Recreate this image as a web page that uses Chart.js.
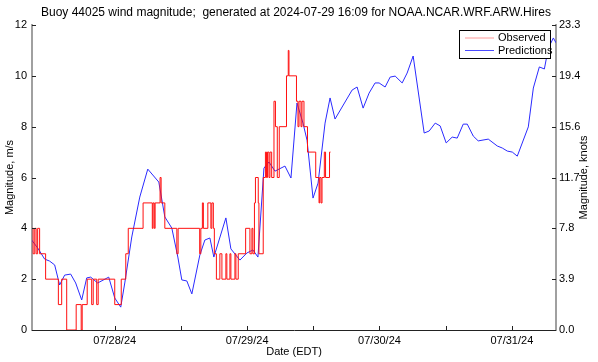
<!DOCTYPE html>
<html>
<head>
<meta charset="utf-8">
<style>
  html, body { margin: 0; padding: 0; background: #fff; }
  #wrap { width: 598px; height: 362px; }
</style>
<script src="https://cdn.jsdelivr.net/npm/chart.js@4"></script>
</head>
<body>
<div id="wrap"><canvas id="chart" width="598" height="362"></canvas></div>
<script>
// hours since 07/28/24 00:00 EDT
const obsHours = [-15.0, -14.8, -14.5, -14.25, -13.98, -13.62, -12.53, -10.22, -9.62, -8.71,
    -6.99, -6.08, -5.9, -4.99, -4.18, -3.9, -3.27, -3.0, 0, 1.18,
    2.0, 2.45, 5.14, 6.81, 6.95, 7.17, 7.32, 8.22, 8.41, 9.08,
    11.26, 11.49, 15.4, 15.61, 15.89, 16.07, 16.88, 17.43, 17.61, 17.88,
    18.06, 18.43, 19.06, 19.43, 20.15, 20.33, 20.88, 21.06, 21.79, 21.97,
    22.39, 23.73, 24.51, 24.87, 25.05, 25.33, 25.51, 26.02, 26.14, 26.92,
    27.32, 27.51, 27.69, 27.96, 28.14, 28.45, 28.87, 29.14, 29.47, 29.83,
    31.14, 31.46, 31.59, 32.95, 33.22, 33.41, 33.77, 33.95, 34.31, 34.95,
    36.44, 37.04, 37.16, 37.4, 37.58, 38.0, 38.22, 38.94, 39.12];
const obsValues = [4, 3, 4, 3, 4, 3, 2, 1, 2, 0,
    1, 0, 1, 2, 1, 2, 1, 2, 1, 2,
    3, 4, 5, 4, 5, 4, 5, 6, 5, 4,
    3, 4, 3, 4, 5, 4, 5, 4, 5, 4,
    3, 2, 3, 2, 3, 2, 3, 2, 3, 2,
    3, 4, 3, 4, 3, 5, 6, 5, 3, 6,
    7, 6, 7, 6, 7, 6, 9, 8, 6, 8,
    10, 11, 10, 9, 8, 9, 8, 9, 8, 7,
    6, 5, 6, 5, 6, 7, 6, 7, 7];

const predHours = [-15.07, -13.98, -12.71, -11.8, -10.89, -9.99, -9.08, -7.99, -7.08, -5.99,
    -5.08, -4.36, -3.09, -1.09, 0, 1.09, 1.82, 3.09, 4.54, 5.99,
    7.99, 9.08, 10.35, 11.44, 12.16, 13.07, 13.98, 15.43, 16.34, 17.25,
    17.97, 20.15, 21.06, 22.69, 23.96, 25.05, 25.96, 27.05, 27.96, 29.05,
    30.86, 31.95, 33.04, 34.13, 34.86, 35.95, 36.86, 38.13, 39.04, 39.94,
    43.03, 43.94, 45.03, 46.11, 47.2, 47.93, 49.02, 49.93, 50.84, 52.11,
    53.01, 54.1, 56.1, 57.01, 58.1, 59.0, 60.09, 61.18, 62.09, 63.18,
    63.91, 65.0, 65.9, 67.72, 69.35, 70.26, 71.17, 72.08, 72.98, 74.98,
    75.89, 76.98, 77.89, 78.61, 79.52, 80.0];
const predValues = [3.54, 3.23, 2.79, 2.71, 2.56, 1.77, 2.16, 2.2, 1.85, 1.18,
    2.05, 2.08, 1.85, 2.08, 1.26, 0.9, 1.85, 3.66, 5.23, 6.33,
    5.82, 4.45, 4.01, 2.87, 1.97, 1.93, 1.42, 2.95, 3.54, 3.62,
    2.87, 4.41, 3.19, 2.75, 3.03, 3.15, 2.87, 6.37, 6.61, 6.25,
    6.45, 5.98, 8.93, 8.14, 7.47, 5.19, 5.78, 8.14, 9.13, 8.3,
    9.44, 9.56, 8.73, 9.32, 9.72, 9.72, 9.56, 9.95, 9.99, 9.72,
    10.11, 10.78, 7.75, 7.83, 8.14, 8.03, 7.36, 7.59, 7.55, 8.1,
    8.1, 7.63, 7.44, 7.51, 7.24, 7.16, 7.04, 7.0, 6.84, 7.99,
    9.52, 10.35, 10.27, 11.09, 11.49, 11.3];

const xTickHours = [0, 12, 24, 36, 48, 60, 72];
const xTickLabels = ['07/28/24', '', '07/29/24', '', '07/30/24', '', '07/31/24'];
const yTicks = [0, 2, 4, 6, 8, 10, 12];
const KNOTS_PER_MS = 1.94384;

const TITLE = 'Buoy 44025 wind magnitude;  generated at 2024-07-29 16:09 for NOAA.NCAR.WRF.ARW.Hires';
const FONT = '"Liberation Sans", Arial, Helvetica, sans-serif';

const toPoints = (xs, ys) => xs.map((x, i) => ({ x: x, y: ys[i] }));

// title, axis titles, inward ticks and boxed legend
const decorations = {
    id: 'decorations',
    afterDraw(chart) {
        const ctx = chart.ctx;
        const area = chart.chartArea;
        const { x, y } = chart.scales;
        ctx.save();
        ctx.strokeStyle = '#222';
        ctx.lineWidth = 1;
        ctx.beginPath();
        xTickHours.forEach(h => {
            const px = Math.round(x.getPixelForValue(h)) + 0.5;
            ctx.moveTo(px, area.bottom);
            ctx.lineTo(px, area.bottom - 4);
        });
        yTicks.forEach(v => {
            const py = Math.round(y.getPixelForValue(v)) + 0.5;
            ctx.moveTo(area.left, py);
            ctx.lineTo(area.left + 4, py);
            ctx.moveTo(area.right, py);
            ctx.lineTo(area.right - 4, py);
        });
        ctx.stroke();

        ctx.fillStyle = '#000';
        ctx.textBaseline = 'middle';
        ctx.textAlign = 'center';
        ctx.font = '12px ' + FONT;
        ctx.fillText(TITLE, 296, 13);

        ctx.font = '11px ' + FONT;
        ctx.fillText('Date (EDT)', (area.left + area.right) / 2, 352);
        const midY = (area.top + area.bottom) / 2;
        [[10, 'Magnitude, m/s'], [584, 'Magnitude, knots']].forEach(([tx, txt]) => {
            ctx.save();
            ctx.translate(tx, midY);
            ctx.rotate(-Math.PI / 2);
            ctx.fillText(txt, 0, 0);
            ctx.restore();
        });

        // legend
        const lx = 459.5, ly = 30.5, lw = 91, lh = 28;
        ctx.fillStyle = '#fff';
        ctx.fillRect(lx, ly, lw, lh);
        ctx.strokeStyle = '#000';
        ctx.strokeRect(lx, ly, lw, lh);
        ctx.textAlign = 'left';
        const rows = [['Observed', '#ff9a9a', 38], ['Predictions', '#4a4aff', 50.5]];
        rows.forEach(([label, col, ry]) => {
            ctx.strokeStyle = col;
            ctx.beginPath();
            ctx.moveTo(465, ry);
            ctx.lineTo(494, ry);
            ctx.stroke();
            ctx.fillStyle = '#000';
            ctx.fillText(label, 498, ry);
        });
        ctx.restore();
    }
};

new Chart(document.getElementById('chart'), {
    type: 'line',
    data: {
        datasets: [
            {
                label: 'Observed',
                data: toPoints(obsHours, obsValues),
                borderColor: '#ff1010',
                borderWidth: 1,
                stepped: true,
                pointRadius: 0,
                yAxisID: 'y'
            },
            {
                label: 'Predictions',
                data: toPoints(predHours, predValues),
                borderColor: '#2a2aff',
                borderWidth: 1,
                tension: 0,
                pointRadius: 0,
                yAxisID: 'y'
            }
        ]
    },
    options: {
        responsive: false,
        animation: false,
        devicePixelRatio: 1,
        layout: { padding: { top: 25, left: 0, right: 0, bottom: 0 } },
        plugins: {
            legend: { display: false },
            title: { display: false },
            tooltip: { enabled: false }
        },
        scales: {
            x: {
                type: 'linear',
                min: -15,
                max: 80,
                afterFit: s => { s.height = 32; },
                afterBuildTicks: s => { s.ticks = xTickHours.map(v => ({ value: v })); },
                grid: { display: true, drawOnChartArea: false, drawTicks: false },
                border: { display: true, color: '#222', width: 1 },
                ticks: {
                    padding: 4,
                    maxRotation: 0,
                    autoSkip: false,
                    color: '#000',
                    font: { family: FONT, size: 11 },
                    callback: v => xTickLabels[xTickHours.indexOf(v)] || ''
                }
            },
            y: {
                position: 'left',
                min: 0,
                max: 12,
                afterFit: s => { s.width = 32; },
                afterBuildTicks: s => { s.ticks = yTicks.map(v => ({ value: v })); },
                grid: { display: true, drawOnChartArea: false, drawTicks: false },
                border: { display: true, color: '#a0a0a0', width: 2 },
                ticks: {
                    padding: 5,
                    color: '#000',
                    font: { family: FONT, size: 11 }
                }
            },
            y1: {
                position: 'right',
                min: 0,
                max: 12 * KNOTS_PER_MS,
                afterFit: s => { s.width = 42; },
                afterBuildTicks: s => { s.ticks = yTicks.map(v => ({ value: v * KNOTS_PER_MS })); },
                grid: { display: true, drawOnChartArea: false, drawTicks: false },
                border: { display: true, color: '#a0a0a0', width: 2 },
                ticks: {
                    padding: 3,
                    color: '#000',
                    font: { family: FONT, size: 11 },
                    callback: v => v.toFixed(1)
                }
            }
        }
    },
    plugins: [decorations]
});
</script>
</body>
</html>
